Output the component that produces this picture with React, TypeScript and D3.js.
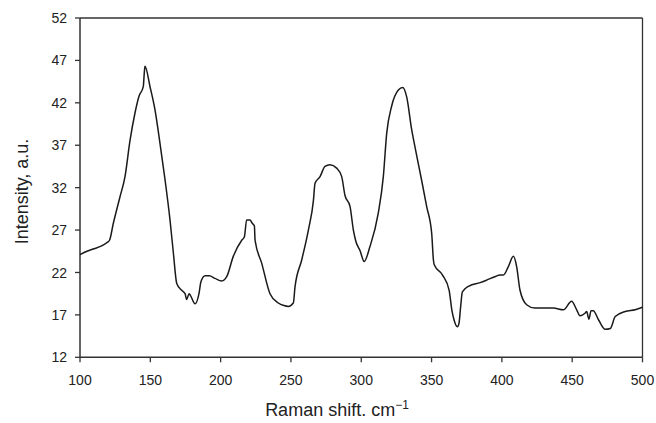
import React from "react";
import * as d3 from "d3";

const ramanShift: number[] = [
  100, 105, 110, 115, 119, 121, 123.7, 128.4, 132, 135.6, 139.1, 142, 145, 145.7, 146.2,
  149.8, 153.3, 156.9, 160.5, 164, 166.4, 168.8, 172.3, 174.7, 175.9, 177.5, 178.5, 181.8,
  184.6, 186, 189, 192, 196, 200.8, 204.3, 209, 215, 216.9, 218.5, 220.9, 222.5, 224, 224.5,
  229.2, 235.1, 241, 245, 248.1, 251.7, 252.9, 257.7, 262.4, 266, 267.1, 270.7, 274.2, 277.8,
  282.5, 286.1, 288.4, 292, 294.4, 296.3, 299.1, 302.1, 306.1, 312.1, 315.7, 318.1, 321.6,
  326.4, 329.5, 332.3, 335.9, 338.2, 342.9, 346.5, 350.1, 351.3, 351.9, 357.8, 362.5, 364.4,
  366, 368.4, 369.5, 370.7, 371.9, 376.6, 384.5, 389.2, 395, 398.7, 401.1, 404.6, 408.2,
  410.5, 412.9, 417.6, 423.5, 436.6, 443.7, 449.6, 453.2, 455.5, 459.1, 460.3, 461.9, 463.4,
  465, 468.8, 473.5, 477.1, 480.6, 487.7, 494.8, 500,
];

const intensity: number[] = [
  24.1, 24.5, 24.8, 25.1, 25.5, 25.8, 27.8, 30.9, 33.3, 37.6, 40.8, 42.8, 43.9, 45.5, 46.3,
  43.9, 41.2, 37.2, 32.9, 28.2, 24.3, 20.7, 19.9, 19.5, 18.8, 19.5, 19.3, 18.3,
  19.5, 20.9, 21.6, 21.6, 21.3, 21.0, 21.5, 23.9, 25.8, 26.2, 28.2, 28.2, 27.8, 27.5, 25.8,
  23.1, 19.5, 18.4, 18.1, 18.0, 18.4, 20.3, 23.5, 27.0, 30.5, 32.5, 33.3, 34.5, 34.7,
  34.3, 33.3, 31.1, 29.8, 27.0, 25.6, 24.6, 23.3, 25.0, 29.0, 33.3, 38.4, 41.6,
  43.5, 43.8, 42.7, 38.8, 36.8, 32.9, 29.8, 26.6, 23.5, 22.9, 21.7, 19.9, 17.6,
  16.4, 15.6, 16.0, 18.0, 19.7, 20.4, 20.8, 21.1, 21.5, 21.7, 21.7, 22.7, 23.9,
  22.7, 19.9, 18.2, 17.8, 17.8, 17.6, 18.6, 17.6, 16.9, 17.2, 17.4, 16.5, 17.5,
  17.5, 16.4, 15.3, 15.4, 16.8, 17.4, 17.6, 17.9,
];

const xTicks: number[] = [100, 150, 200, 250, 300, 350, 400, 450, 500];
const yTicks: number[] = [12, 17, 22, 27, 32, 37, 42, 47, 52];

const xTitle = "Raman shift. cm";
const xTitleSup = "\u22121";
const yTitle = "Intensity, a.u.";

export default function App() {
  const W = 656;
  const H = 423;
  const left = 80;
  const right = 642.5;
  const top = 18;
  const bottom = 357.3;

  const x = d3.scaleLinear().domain([100, 500]).range([left, right]);
  const y = d3.scaleLinear().domain([12, 52]).range([bottom, top]);

  const pts: [number, number][] = ramanShift.map((v, i) => [v, intensity[i]]);
  const line = d3
    .line<[number, number]>()
    .x((d) => x(d[0]))
    .y((d) => y(d[1]))
    .curve(d3.curveMonotoneX);

  const axisColor = "#333";
  const font = "Arial, 'Liberation Sans', sans-serif";

  return (
    <svg
      width={W}
      height={H}
      style={{ position: "absolute", left: 0, top: 0, background: "#fff" }}
      fontFamily={font}
    >
      <rect x={0} y={0} width={W} height={H} fill="#fff" />
      {/* frame */}
      <line x1={left} x2={right} y1={top} y2={top} stroke={axisColor} strokeWidth={1.3} />
      <line x1={right} x2={right} y1={top} y2={bottom} stroke={axisColor} strokeWidth={1.3} />
      <line x1={left} x2={right} y1={bottom} y2={bottom} stroke={axisColor} strokeWidth={1.5} />
      <line x1={left} x2={left} y1={top} y2={bottom} stroke={axisColor} strokeWidth={1.5} />
      {/* x ticks */}
      {xTicks.map((t) => (
        <g key={"x" + t}>
          <line x1={x(t)} x2={x(t)} y1={bottom} y2={bottom + 5} stroke={axisColor} strokeWidth={1.3} />
          <text x={x(t)} y={bottom + 28} textAnchor="middle" fontSize={14} fill="#222">
            {t}
          </text>
        </g>
      ))}
      {/* y ticks */}
      {yTicks.map((t) => (
        <g key={"y" + t}>
          <line x1={left - 5} x2={left} y1={y(t)} y2={y(t)} stroke={axisColor} strokeWidth={1.3} />
          <text x={67} y={y(t)} dy="0.36em" textAnchor="end" fontSize={14} fill="#222">
            {t}
          </text>
        </g>
      ))}
      {/* curve */}
      <path d={line(pts) || ""} fill="none" stroke="#1a1a1a" strokeWidth={1.5} strokeLinejoin="round" />
      {/* titles */}
      <text x={337} y={416} textAnchor="middle" fontSize={18} fill="#222">
        {xTitle}
        <tspan dy={-7} fontSize={12}>
          {xTitleSup}
        </tspan>
      </text>
      <text
        transform={`translate(28, 191.5) rotate(-90)`}
        textAnchor="middle"
        fontSize={18}
        fill="#222"
      >
        {yTitle}
      </text>
    </svg>
  );
}
